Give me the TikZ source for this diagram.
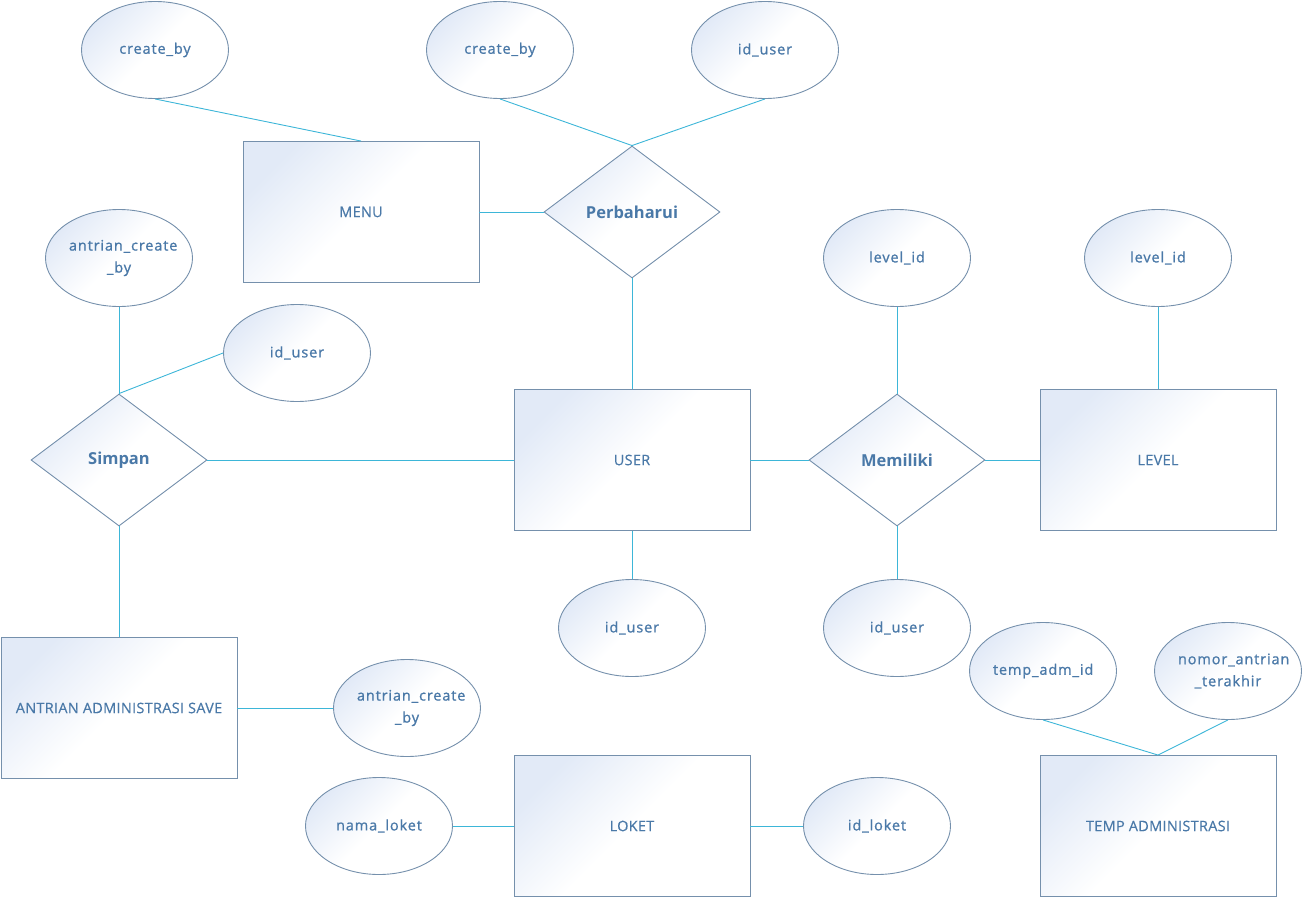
\documentclass[tikz,border=0pt]{standalone}
\usepackage{fontspec}
\setmainfont{Open Sans}
\newfontfamily\attrfont{Open Sans}[FakeBold=1.0,LetterSpace=6]
\newfontfamily\entfont{Open Sans}[FakeBold=0.4,LetterSpace=2]
\usetikzlibrary{shapes.geometric}
\definecolor{txt}{HTML}{4A79A8}
\definecolor{edge}{HTML}{7590AC}
\definecolor{conn}{HTML}{3DB6D8}
\definecolor{lb}{HTML}{E2EAF7}
\tikzset{
  base/.style={draw=edge, line width=0.9pt, text=txt, top color=lb, bottom color=white, middle color=white, shading angle=45, inner sep=0pt, align=center},
  ent/.style={base, rectangle, minimum width=236pt, minimum height=141pt, font=\entfont\fontsize{14.5}{17}\selectfont},
  attr/.style={base, ellipse, minimum width=147pt, minimum height=97pt, text width=100pt, font=\attrfont\fontsize{14.5}{22}\selectfont},
  rel/.style={base, diamond, minimum width=176pt, minimum height=132pt, font=\fontsize{16.5}{19}\selectfont\bfseries},
  link/.style={draw=conn, line width=0.9pt}
}
\begin{document}
\begin{tikzpicture}[x=1pt,y=-1pt]
\useasboundingbox (0,0) rectangle (1304,899);
% entities
\node[ent] (menu) at (361,212) {MENU};
\node[ent] (user) at (632,460) {USER};
\node[ent] (level) at (1158,460) {LEVEL};
\node[ent] (ans) at (119,708) {ANTRIAN ADMINISTRASI SAVE};
\node[ent] (loket) at (632,826) {LOKET};
\node[ent] (temp) at (1158,826) {TEMP ADMINISTRASI};
% relations
\node[rel] (perb) at (632,212) {Perbaharui};
\node[rel] (simpan) at (119,460) {Simpan};
\node[rel] (memiliki) at (897,460) {Memiliki};
% attributes
\node[attr] (cb1) at (155,50) {create\_by};
\node[attr] (cb2) at (500,50) {create\_by};
\node[attr] (iu1) at (765,50) {id\_user};
\node[attr] (acb1) at (119,258) {antrian\_create\\\_by};
\node[attr] (iu2) at (297,353) {id\_user};
\node[attr] (lv1) at (897,258) {level\_id};
\node[attr] (lv2) at (1158,258) {level\_id};
\node[attr] (iu3) at (632,628) {id\_user};
\node[attr] (iu4) at (897,628) {id\_user};
\node[attr] (tai) at (1043,671) {temp\_adm\_id};
\node[attr] (nat) at (1228,671) {nomor\_antrian\\\_terakhir};
\node[attr] (acb2) at (407,708) {antrian\_create\\\_by};
\node[attr] (nl) at (379,826) {nama\_loket};
\node[attr] (il) at (877,826) {id\_loket};
% connectors
\draw[link] (cb1.south) -- (menu.north);
\draw[link] (cb2.south) -- (perb.north);
\draw[link] (iu1.south) -- (perb.north);
\draw[link] (menu.east) -- (perb.west);
\draw[link] (perb.south) -- (user.north);
\draw[link] (acb1.south) -- (simpan.north);
\draw[link] (iu2.west) -- (simpan.north);
\draw[link] (simpan.east) -- (user.west);
\draw[link] (simpan.south) -- (ans.north);
\draw[link] (ans.east) -- (acb2.west);
\draw[link] (user.south) -- (iu3.north);
\draw[link] (user.east) -- (memiliki.west);
\draw[link] (memiliki.east) -- (level.west);
\draw[link] (lv1.south) -- (memiliki.north);
\draw[link] (lv2.south) -- (level.north);
\draw[link] (memiliki.south) -- (iu4.north);
\draw[link] (tai.south) -- (temp.north);
\draw[link] (nat.south) -- (temp.north);
\draw[link] (nl.east) -- (loket.west);
\draw[link] (loket.east) -- (il.west);
\end{tikzpicture}
\end{document}
